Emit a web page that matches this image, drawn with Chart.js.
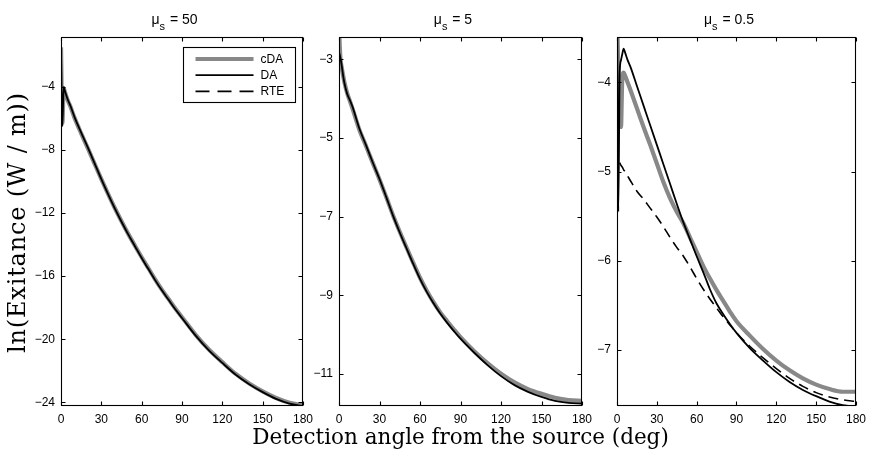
<!DOCTYPE html>
<html><head><meta charset="utf-8">
<script src="https://cdn.jsdelivr.net/npm/chart.js@4.4.1/dist/chart.umd.min.js"></script>
<style>
html,body{margin:0;padding:0;background:#fff;}
#wrap{position:relative;width:872px;height:453px;background:#fff;}
canvas{position:absolute;left:0;top:0;}
</style></head><body>
<div id="wrap">
<canvas id="c1" width="872" height="453"></canvas>
<canvas id="c2" width="872" height="453"></canvas>
<canvas id="c3" width="872" height="453"></canvas>
</div>
<script>
// ---------- data ----------
const seriesNames = ['cDA', 'DA', 'RTE'];
const panelValues = ['50', '5', '0.5'];
const xTitle = 'Detection angle from the source (deg)';
const yTitle = 'ln(Exitance (W / m))';
const xTicks = [0, 30, 60, 90, 120, 150, 180];
const yTicks1 = [-24, -20, -16, -12, -8, -4];
const yTicks2 = [-11, -9, -7, -5, -3];
const yTicks3 = [-7, -6, -5, -4];

// panel 1 : mu_s = 50
const angles1 = [0,1,2,3,5,7,10,15,20,25,30,35,40,45,50,55,60,65,70,75,80,85,90,100,110,120,130,140,150,160,170,180];
const cda1 = [-1.5,-6.3,-4.1,-4.35,-4.85,-5.25,-5.95,-6.95,-7.9,-8.88,-9.85,-10.78,-11.68,-12.52,-13.32,-14.07,-14.8,-15.5,-16.2,-16.85,-17.45,-18.05,-18.6,-19.7,-20.65,-21.45,-22.2,-22.8,-23.3,-23.72,-24.02,-24.18];
const da1  = [-1.8,-6.5,-4.0,-4.3,-4.8,-5.2,-5.9,-6.9,-7.85,-8.85,-9.85,-10.8,-11.7,-12.55,-13.35,-14.1,-14.85,-15.55,-16.25,-16.9,-17.5,-18.1,-18.65,-19.75,-20.7,-21.5,-22.25,-22.85,-23.35,-23.78,-24.08,-24.23];

// panel 2 : mu_s = 5
const angles2 = [0,1,2,3,4,6,8,10,15,20,25,30,35,40,45,50,55,60,65,70,75,80,85,90,100,110,120,130,140,150,160,170,180];
const cda2 = [-2.2,-2.95,-3.2,-3.4,-3.58,-3.85,-4.05,-4.25,-4.78,-5.2,-5.63,-6.05,-6.5,-6.96,-7.38,-7.78,-8.17,-8.55,-8.88,-9.17,-9.43,-9.65,-9.86,-10.06,-10.41,-10.72,-10.99,-11.21,-11.38,-11.5,-11.6,-11.66,-11.68];
const da2  = [-2.81,-2.95,-3.15,-3.4,-3.6,-3.87,-4.03,-4.2,-4.75,-5.18,-5.62,-6.04,-6.5,-6.97,-7.4,-7.8,-8.2,-8.58,-8.91,-9.2,-9.46,-9.69,-9.9,-10.1,-10.45,-10.77,-11.05,-11.28,-11.45,-11.58,-11.68,-11.73,-11.75];

// panel 3 : mu_s = 0.5
const angles3 = [0,1,2,3,4,5,6,8,10,15,20,25,30,35,40,45,50,55,60,65,70,75,80,85,90,100,110,120,130,140,150,160,170,180];
const cda3 = [-3.2,-3.9,-4.45,-4.5,-3.95,-3.89,-3.92,-4.0,-4.08,-4.29,-4.5,-4.7,-4.91,-5.12,-5.3,-5.45,-5.58,-5.74,-5.9,-6.06,-6.2,-6.33,-6.45,-6.57,-6.68,-6.84,-6.99,-7.12,-7.23,-7.32,-7.39,-7.44,-7.47,-7.47];
const da3  = [-3.0,-5.45,-3.9,-3.75,-3.68,-3.62,-3.66,-3.75,-3.82,-4.04,-4.26,-4.48,-4.7,-4.92,-5.14,-5.36,-5.57,-5.76,-5.95,-6.13,-6.32,-6.48,-6.6,-6.71,-6.81,-6.98,-7.12,-7.25,-7.36,-7.45,-7.52,-7.58,-7.62,-7.64];
const rte3 = [null,null,-4.9,-4.93,-4.95,-4.98,-5.0,-5.05,-5.1,-5.22,-5.31,-5.41,-5.51,-5.62,-5.74,-5.85,-5.95,-6.07,-6.2,-6.32,-6.43,-6.53,-6.63,-6.72,-6.81,-6.96,-7.09,-7.21,-7.32,-7.41,-7.48,-7.53,-7.56,-7.58];

// ---------- styles ----------
const GRAY = '#888888';
const styles = {
  cDA: {borderColor: GRAY, borderWidth: 4.2, borderDash: [], order: 2},
  DA:  {borderColor: '#000', borderWidth: 1.8, borderDash: [], order: 0},
  RTE: {borderColor: '#000', borderWidth: 1.6, borderDash: [10, 6], order: 1}
};
const SANS = '"Liberation Sans", Arial, sans-serif';
const SERIF = '"DejaVu Serif", serif';

function pts(xs, ys) { return xs.map((x, i) => ({x: x, y: ys[i]})); }
function fmt(v) { return v < 0 ? '\u2212' + Math.abs(v) : String(v); }

const boxPlugin = {
  id: 'boxTicks',
  afterDraw(chart) {
    const {ctx, chartArea: a, scales: {x, y}} = chart;
    const L = Math.round(a.left) + 0.5, R = Math.round(a.right) - 0.5;
    const T = Math.round(a.top) + 0.5, B = Math.round(a.bottom) - 0.5;
    ctx.save();
    ctx.strokeStyle = '#000'; ctx.lineWidth = 1.1;
    ctx.strokeRect(L, T, R - L, B - T);
    ctx.beginPath();
    x.ticks.forEach(t => {
      const p = Math.round(x.getPixelForValue(t.value)) + 0.5;
      ctx.moveTo(p, B); ctx.lineTo(p, B - 4);
      ctx.moveTo(p, T); ctx.lineTo(p, T + 4);
    });
    y.ticks.forEach(t => {
      const p = Math.round(y.getPixelForValue(t.value)) + 0.5;
      ctx.moveTo(L, p); ctx.lineTo(L + 4, p);
      ctx.moveTo(R, p); ctx.lineTo(R - 4, p);
    });
    ctx.stroke();
    ctx.restore();
  }
};

const titlePlugin = {
  id: 'panelTitle',
  afterDraw(chart, args, opts) {
    const {ctx, chartArea: a} = chart;
    const cx = (a.left + a.right) / 2;
    ctx.save();
    ctx.fillStyle = '#000'; ctx.textAlign = 'left'; ctx.textBaseline = 'alphabetic';
    const mainF = '14px ' + SANS, subF = '11px ' + SANS;
    ctx.font = mainF; const w1 = ctx.measureText('\u03bc').width; const rest = ' = ' + opts.value; const w3 = ctx.measureText(rest).width;
    ctx.font = subF; const w2 = ctx.measureText('s').width;
    let x0 = cx - 8 - (w1 + w2 + w3) / 2;
    ctx.font = mainF; ctx.fillText('\u03bc', x0, 24);
    ctx.font = subF; ctx.fillText('s', x0 + w1, 29.5);
    ctx.font = mainF; ctx.fillText(rest, x0 + w1 + w2 + 1, 24);
    ctx.restore();
  }
};

const axisTitlePlugin = {
  id: 'axisTitles',
  afterDraw(chart) {
    const {ctx, chartArea: a} = chart;
    ctx.save();
    ctx.fillStyle = '#000'; ctx.font = '21.5px ' + SERIF;
    ctx.textAlign = 'center'; ctx.textBaseline = 'alphabetic';
    ctx.fillText(xTitle, 460.5, 444);
    ctx.font = '24px ' + SERIF;
    try { ctx.letterSpacing = '0.8px'; } catch (e) {}
    ctx.translate(25, (a.top + a.bottom) / 2 + 1);
    ctx.rotate(-Math.PI / 2);
    ctx.fillText(yTitle, 0, 0);
    ctx.restore();
  }
};

const legendPlugin = {
  id: 'legendBox',
  afterDraw(chart) {
    const {ctx, chartArea: a} = chart;
    const w = 112, h = 55;
    const x0 = Math.round(a.right - 8 - w) + 0.5, y0 = Math.round(a.top + 9.5) + 0.5;
    ctx.save();
    ctx.fillStyle = '#fff'; ctx.fillRect(x0, y0, w, h);
    ctx.strokeStyle = '#000'; ctx.lineWidth = 1.1; ctx.strokeRect(x0, y0, w, h);
    seriesNames.forEach((name, i) => {
      const st = styles[name];
      const yy = y0 + 11.5 + i * 16.2;
      ctx.strokeStyle = st.borderColor; ctx.lineWidth = st.borderWidth; ctx.setLineDash(name === 'RTE' ? [14, 8] : []);
      ctx.beginPath(); ctx.moveTo(x0 + 12, yy); ctx.lineTo(x0 + 70, yy); ctx.stroke();
      ctx.setLineDash([]);
      ctx.fillStyle = '#000'; ctx.font = '12px ' + SANS; ctx.textBaseline = 'middle'; ctx.textAlign = 'left';
      ctx.fillText(name, x0 + 77, yy + 0.5);
    });
    ctx.restore();
  }
};

function makeChart(id, series, yMin, yMax, yTickVals, left, right, titleVal, extra) {
  const datasets = series.map(s => Object.assign({
    label: s.name,
    data: pts(s.x, s.y),
    pointRadius: 0,
    fill: false,
    tension: 0,
    cubicInterpolationMode: 'monotone',
    clip: 0,
    borderCapStyle: 'butt',
    borderJoinStyle: 'round'
  }, styles[s.name]));
  return new Chart(document.getElementById(id), {
    type: 'line',
    data: {datasets: datasets},
    options: {
      responsive: false, animation: false, devicePixelRatio: 1,
      events: [],
      layout: {padding: {left: left - 40, right: 872 - right, top: 37, bottom: 453 - 406 - 30}},
      plugins: {legend: {display: false}, title: {display: false}, tooltip: {enabled: false}, panelTitle: {value: titleVal}},
      scales: {
        x: {
          type: 'linear', min: 0, max: 180,
          afterBuildTicks: sc => { sc.ticks = xTicks.map(v => ({value: v})); },
          afterFit: sc => { sc.height = 30; },
          grid: {display: false, drawTicks: false}, border: {display: false},
          ticks: {color: '#000', font: {family: SANS, size: 12}, padding: 6, maxRotation: 0, autoSkip: false, callback: v => String(v)}
        },
        y: {
          type: 'linear', min: yMin, max: yMax,
          afterBuildTicks: sc => { sc.ticks = yTickVals.map(v => ({value: v})); },
          afterFit: sc => { sc.width = 40; },
          grid: {display: false, drawTicks: false}, border: {display: false},
          ticks: {color: '#000', font: {family: SANS, size: 12}, padding: 6, autoSkip: false, callback: v => fmt(v)}
        }
      }
    },
    plugins: [boxPlugin, titlePlugin].concat(extra || [])
  });
}

makeChart('c1', [
  {name: 'cDA', x: angles1, y: cda1},
  {name: 'DA', x: angles1, y: da1}
], -24.23, -0.84, yTicks1, 61, 303, panelValues[0], [legendPlugin, axisTitlePlugin]);

makeChart('c2', [
  {name: 'cDA', x: angles2, y: cda2},
  {name: 'DA', x: angles2, y: da2}
], -11.81, -2.43, yTicks2, 339, 582, panelValues[1]);

makeChart('c3', [
  {name: 'cDA', x: angles3, y: cda3},
  {name: 'DA', x: angles3, y: da3},
  {name: 'RTE', x: angles3, y: rte3}
], -7.63, -3.49, yTicks3, 617, 859, panelValues[2]);
</script>
</body></html>
